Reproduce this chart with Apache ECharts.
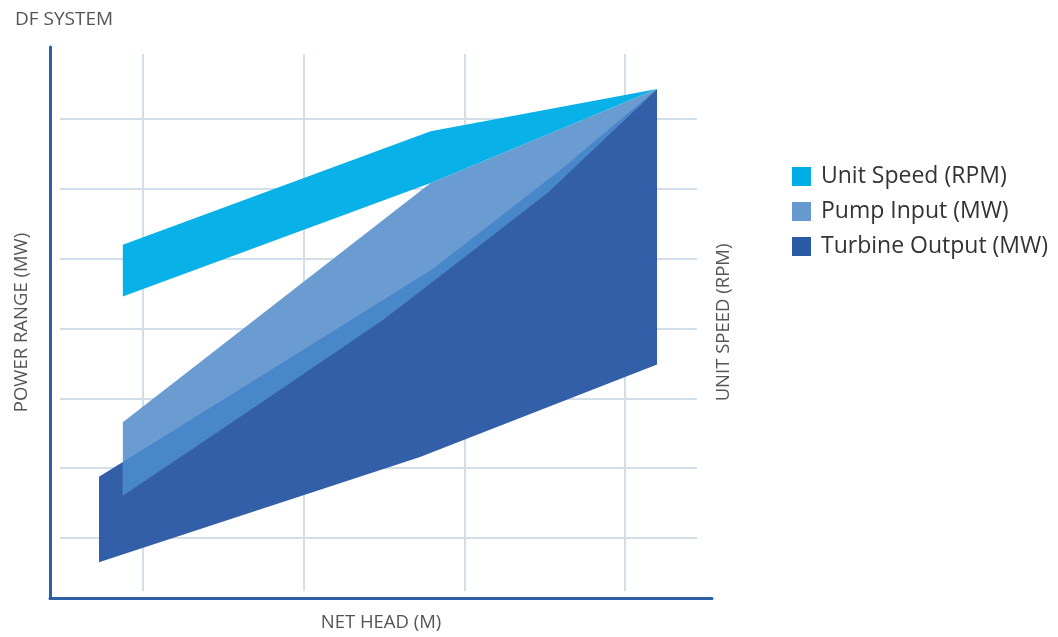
<!DOCTYPE html>
<html>
<head>
<meta charset="utf-8">
<script src="https://cdn.jsdelivr.net/npm/echarts@6/dist/echarts.min.js"></script>
<style>
html,body{margin:0;padding:0;background:#fff;}
#chart{width:1058px;height:637px;}
</style>
</head>
<body>
<div id="chart"></div>
<script>
// ---- data (net head on x, power range on y, arbitrary 0-100 units) ----
const seriesNames = ['Unit Speed (RPM)', 'Pump Input (MW)', 'Turbine Output (MW)'];

const unitHead = [11, 57.5, 91.7];
const unitUpper = [64.1, 84.7, 92.4];
const unitLower = [54.7, 75.3, 92.4];

const pumpTopHead = [11, 57.5, 91.7];
const pumpTop = [31.9, 75.3, 92.4];
const pumpBottomHead = [11, 28.7, 50.3, 62.4, 75.1, 91.7];
const pumpBottom = [18.6, 32.9, 50.5, 61.7, 73.5, 92.4];

const turbineTopHead = [7.4, 11, 28.7, 57.7, 77.0, 91.7];
const turbineTop = [22.0, 24.7, 37.9, 59.6, 77.6, 92.4];
const turbineBottomHead = [7.4, 55.9, 91.7];
const turbineBottom = [6.5, 25.6, 42.4];

const verticalGridTicks = [0, 1, 2, 3];
const horizontalGridTicks = [0, 1, 2, 3, 4, 5, 6];

// ---- colours ----
const C_UNIT = '#00aee6';
const C_PUMP = '#6699cf';
const C_OVER = '#4786c8';
const C_TURB = '#2b5aa4';
const C_AXIS = '#2c5fa6';
const C_GRID = '#d3deeb';

function band(h1, v1, h2, v2) {
  const a = h1.map((h, i) => [h, v1[i]]);
  const b = h2.map((h, i) => [h, v2[i]]).reverse();
  return a.concat(b);
}

const unitPoly = band(unitHead, unitUpper, unitHead, unitLower);
const pumpPoly = band(pumpTopHead, pumpTop, pumpBottomHead, pumpBottom);
const turbPoly = band(turbineTopHead, turbineTop, turbineBottomHead, turbineBottom);
// overlap of pump and turbine: turbine top edge (from the pump's left edge) down to pump bottom edge
const overlapPoly = band(turbineTopHead.slice(1), turbineTop.slice(1), pumpBottomHead, pumpBottom);

function polySeries(name, pts, color, z) {
  return {
    type: 'custom',
    name: name,
    xAxisIndex: 0,
    yAxisIndex: 0,
    z: z,
    clip: false,
    silent: true,
    itemStyle: { color: color },
    data: pts,
    renderItem: function (params, api) {
      if (params.dataIndex !== 0) return null;
      return {
        type: 'polygon',
        shape: { points: pts.map(p => api.coord(p)) },
        style: { fill: color, opacity: 0.97 }
      };
    }
  };
}

const chart = echarts.init(document.getElementById('chart'), null, { renderer: 'canvas' });
const FONT = '"Open Sans", sans-serif';

chart.setOption({
  animation: false,
  backgroundColor: '#fff',
  title: {
    text: 'DF SYSTEM',
    left: 10, top: 5,
    textStyle: { fontFamily: FONT, fontSize: 19, fontWeight: 'normal', color: '#555' }
  },
  legend: {
    orient: 'vertical',
    left: 787, top: 160,
    itemWidth: 19, itemHeight: 19, itemGap: 12,
    icon: 'rect',
    data: seriesNames,
    textStyle: { fontFamily: FONT, fontSize: 23, color: '#333', padding: [0, 0, 0, 5] }
  },
  grid: [
    { left: 50, top: 47, width: 662, height: 554 },
    { left: 143, top: 54, width: 482, height: 537 },
    { left: 60, top: 119, width: 637, height: 419 }
  ],
  xAxis: [
    {
      gridIndex: 0, type: 'value', min: 0, max: 100,
      axisLine: { show: true, lineStyle: { color: C_AXIS, width: 3 } },
      axisTick: { show: false }, axisLabel: { show: false }, splitLine: { show: false },
      name: 'NET HEAD (M)', nameLocation: 'middle', nameGap: 15,
      nameTextStyle: { fontFamily: FONT, fontSize: 18.5, color: '#555' }
    },
    {
      gridIndex: 1, type: 'value', min: verticalGridTicks[0], max: verticalGridTicks[verticalGridTicks.length - 1], interval: 1,
      axisLine: { show: false }, axisTick: { show: false }, axisLabel: { show: false },
      splitLine: { show: true, lineStyle: { color: C_GRID, width: 2 } }
    },
    {
      gridIndex: 2, type: 'value', show: false, min: 0, max: 1
    }
  ],
  yAxis: [
    {
      gridIndex: 0, type: 'value', min: 0, max: 100,
      axisLine: { show: true, lineStyle: { color: C_AXIS, width: 3 } },
      axisTick: { show: false }, axisLabel: { show: false }, splitLine: { show: false },
      name: 'POWER RANGE (MW)', nameLocation: 'middle', nameGap: 19,
      nameTextStyle: { fontFamily: FONT, fontSize: 18.5, color: '#555' }
    },
    {
      gridIndex: 0, type: 'value', position: 'right', min: 0, max: 100,
      axisLine: { show: false }, axisTick: { show: false }, axisLabel: { show: false }, splitLine: { show: false },
      name: 'UNIT SPEED (RPM)', nameLocation: 'middle', nameGap: 2, nameRotate: 90,
      nameTextStyle: { fontFamily: FONT, fontSize: 18.5, color: '#555', verticalAlign: 'top' }
    },
    {
      gridIndex: 1, type: 'value', show: false, min: 0, max: 1
    },
    {
      gridIndex: 2, type: 'value', min: horizontalGridTicks[0], max: horizontalGridTicks[horizontalGridTicks.length - 1], interval: 1,
      axisLine: { show: false }, axisTick: { show: false }, axisLabel: { show: false },
      splitLine: { show: true, lineStyle: { color: C_GRID, width: 2 } }
    }
  ],
  series: [
    polySeries(seriesNames[2], turbPoly, C_TURB, 2),
    polySeries(seriesNames[1], pumpPoly, C_PUMP, 3),
    polySeries('overlap', overlapPoly, C_OVER, 4),
    polySeries(seriesNames[0], unitPoly, C_UNIT, 5)
  ]
});
</script>
</body>
</html>
